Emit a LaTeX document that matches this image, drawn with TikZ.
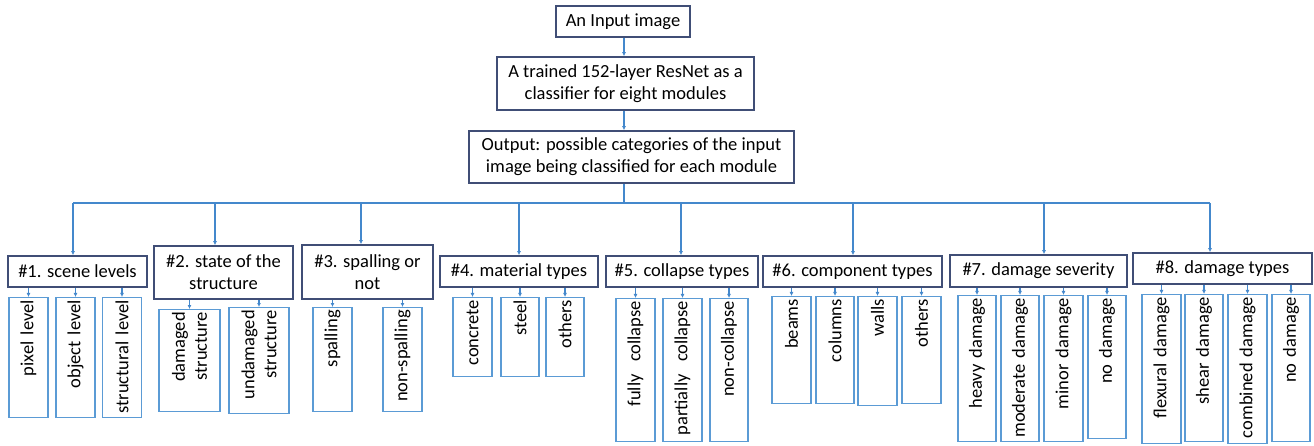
\documentclass[tikz,border=0pt]{standalone}
\usepackage{fontspec}
\setmainfont{Carlito}
\usetikzlibrary{arrows.meta}
\definecolor{frame}{RGB}{64,78,118}
\definecolor{leafblue}{RGB}{91,155,213}
\definecolor{wireblue}{RGB}{68,136,204}

\begin{document}
\begin{tikzpicture}[x=1pt,y=-1pt,
  every node/.style={font=\fontsize{18.5}{22}\selectfont, inner sep=0pt},
  box/.style={draw=frame, line width=1.6pt, align=center},
  leaf/.style={draw=leafblue, line width=1.2pt, rotate=90, anchor=east, align=right, inner xsep=2.5pt},
  wire/.style={draw=wireblue, line width=1.2pt},
  arr/.style={wire, -{Latex[length=4pt,width=4pt]}}]

\useasboundingbox (0,0) rectangle (1314,446);

% network part
\node[box, minimum width=134pt, minimum height=31pt] (in) at (623,21.5) {An Input image};
\node[box, minimum width=257pt, minimum height=53pt] (res) at (625.5,83.5) {A trained 152-layer ResNet as a\\classifier for eight modules};
\node[box, minimum width=325pt, minimum height=52pt] (out) at (631.5,157) {Output: possible categories of the input\\image being classified for each module};

\coordinate (t) at (624,203);
\draw[arr] (t |- in.south) -- (t |- res.north);
\draw[arr] (t |- res.south) -- (t |- out.north);
\draw[wire] (t |- out.south) -- (t);

% modules
\node[box, minimum width=139pt, minimum height=31pt] (h1) at (77.5,271.5) {\#1. scene levels};
\node[box, minimum width=139pt, minimum height=53pt] (h2) at (223.5,272.5) {\#2. state of the\\structure};
\node[box, minimum width=131pt, minimum height=54pt] (h3) at (367.5,272) {\#3. spalling or\\not};
\node[box, minimum width=158pt, minimum height=31pt] (h4) at (519,271.5) {\#4. material types};
\node[box, minimum width=152pt, minimum height=31pt] (h5) at (682,271.5) {\#5. collapse types};
\node[box, minimum width=179pt, minimum height=31pt] (h6) at (852.5,271.5) {\#6. component types};
\node[box, minimum width=177pt, minimum height=32pt] (h7) at (1038.5,271) {\#7. damage severity};
\node[box, minimum width=179pt, minimum height=31pt] (h8) at (1222.5,268.5) {\#8. damage types};

\coordinate (b1) at (73,203);
\coordinate (b2) at (215,203);
\coordinate (b3) at (361,203);
\coordinate (b4) at (519,203);
\coordinate (b5) at (681,203);
\coordinate (b6) at (853,203);
\coordinate (b7) at (1044,203);
\coordinate (b8) at (1210,203);
\draw[wire] (b1) -- (b8);
\draw[arr] (b1) -- (b1 |- h1.north);
\draw[arr] (b2) -- (b2 |- h2.north);
\draw[arr] (b3) -- (b3 |- h3.north);
\draw[arr] (b4) -- (b4 |- h4.north);
\draw[arr] (b5) -- (b5 |- h5.north);
\draw[arr] (b6) -- (b6 |- h6.north);
\draw[arr] (b7) -- (b7 |- h7.north);
\draw[arr] (b8) -- (b8 |- h8.north);

% categories
\node[leaf, text width=115pt, minimum height=39pt] (l11) at (28.5,297) {pixel level};
\node[leaf, text width=115pt, minimum height=39pt] (l12) at (75.5,297) {object level};
\node[leaf, text width=115pt, minimum height=39pt] (l13) at (122,297) {structural level};

\node[leaf, text width=97pt, minimum height=61pt] (l21) at (189.5,309) {damaged\\structure};
\node[leaf, text width=101pt, minimum height=60pt] (l22) at (259,307) {undamaged\\structure};

\node[leaf, text width=99pt, minimum height=39pt] (l31) at (332.5,307) {spalling};
\node[leaf, text width=99pt, minimum height=39pt] (l32) at (402.5,307) {non-spalling};

\node[leaf, text width=74pt, minimum height=39pt] (l41) at (472.5,297) {concrete};
\node[leaf, text width=74pt, minimum height=38pt] (l42) at (520,297) {steel};
\node[leaf, text width=74pt, minimum height=38pt] (l43) at (565,297) {others};

\node[leaf, text width=138pt, minimum height=39pt] (l51) at (635.5,298) {fully\ \ collapse};
\node[leaf, text width=138pt, minimum height=39pt] (l52) at (682.5,298) {partially\ \ collapse};
\node[leaf, text width=138pt, minimum height=38pt] (l53) at (729,298) {non-collapse};

\node[leaf, text width=102pt, minimum height=39pt] (l61) at (791.5,296) {beams};
\node[leaf, text width=102pt, minimum height=38pt] (l62) at (835,296) {columns};
\node[leaf, text width=104pt, minimum height=39pt] (l63) at (877.5,296) {walls};
\node[leaf, text width=102pt, minimum height=39pt] (l64) at (921.5,296) {others};

\node[leaf, text width=141pt, minimum height=38pt] (l71) at (977,295) {heavy damage};
\node[leaf, text width=141pt, minimum height=38pt] (l72) at (1020,295) {moderate damage};
\node[leaf, text width=141pt, minimum height=39pt] (l73) at (1063.5,295) {minor damage};
\node[leaf, text width=138pt, minimum height=38pt] (l74) at (1107,295) {no damage};

\node[leaf, text width=144pt, minimum height=39pt] (l81) at (1161.5,294) {flexural damage};
\node[leaf, text width=142pt, minimum height=38pt] (l82) at (1204,294) {shear damage};
\node[leaf, text width=144pt, minimum height=39pt] (l83) at (1247.5,294) {combined damage};
\node[leaf, text width=142pt, minimum height=38pt] (l84) at (1291,294) {no damage};

\draw[arr] (l11.east |- h1.south) -- (l11.east);
\draw[arr] (l12.east |- h1.south) -- (l12.east);
\draw[arr] (l13.east |- h1.south) -- (l13.east);
\draw[arr] (l21.east |- h2.south) -- (l21.east);
\draw[arr] (l22.east |- h2.south) -- (l22.east);
\draw[arr] (l31.east |- h3.south) -- (l31.east);
\draw[arr] (l32.east |- h3.south) -- (l32.east);
\draw[arr] (l41.east |- h4.south) -- (l41.east);
\draw[arr] (l42.east |- h4.south) -- (l42.east);
\draw[arr] (l43.east |- h4.south) -- (l43.east);
\draw[arr] (l51.east |- h5.south) -- (l51.east);
\draw[arr] (l52.east |- h5.south) -- (l52.east);
\draw[arr] (l53.east |- h5.south) -- (l53.east);
\draw[arr] (l61.east |- h6.south) -- (l61.east);
\draw[arr] (l62.east |- h6.south) -- (l62.east);
\draw[arr] (l63.east |- h6.south) -- (l63.east);
\draw[arr] (l64.east |- h6.south) -- (l64.east);
\draw[arr] (l71.east |- h7.south) -- (l71.east);
\draw[arr] (l72.east |- h7.south) -- (l72.east);
\draw[arr] (l73.east |- h7.south) -- (l73.east);
\draw[arr] (l74.east |- h7.south) -- (l74.east);
\draw[arr] (l81.east |- h8.south) -- (l81.east);
\draw[arr] (l82.east |- h8.south) -- (l82.east);
\draw[arr] (l83.east |- h8.south) -- (l83.east);
\draw[arr] (l84.east |- h8.south) -- (l84.east);
\end{tikzpicture}
\end{document}
